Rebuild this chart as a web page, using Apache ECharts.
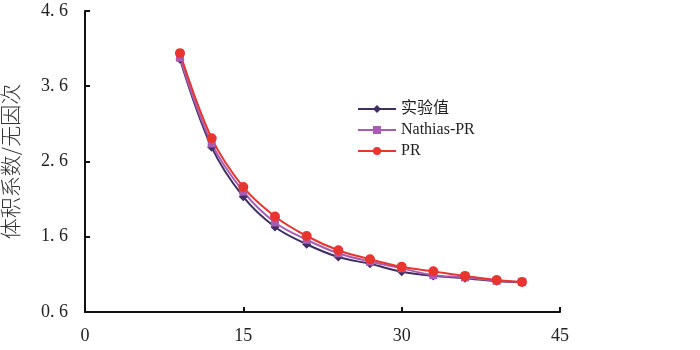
<!DOCTYPE html>
<html>
<head>
<meta charset="utf-8">
<script src="https://cdn.jsdelivr.net/npm/echarts@6/dist/echarts.min.js"></script>
<style>
  html, body { margin: 0; padding: 0; background: #fff; }
  #main { width: 700px; height: 350px; }
</style>
</head>
<body>
<div id="main"></div>
<script>
var chartDom = document.getElementById('main');
var myChart = echarts.init(chartDom);

// temperature points (x) and the three curves
var xVals = [9, 12, 15, 18, 21, 24, 27, 30, 33, 36, 39, 41.4];
var shiyan = [3.96, 2.79, 2.13, 1.73, 1.50, 1.33, 1.24, 1.135, 1.08, 1.05, 1.01, 1.00];
var nathias = [3.98, 2.84, 2.20, 1.79, 1.56, 1.38, 1.27, 1.18, 1.09, 1.06, 1.015, 1.00];
var pr = [4.04, 2.91, 2.26, 1.87, 1.61, 1.42, 1.30, 1.20, 1.14, 1.08, 1.025, 1.00];
var yTicks = [0.6, 1.6, 2.6, 3.6, 4.6];

function pairs(ys) {
  return xVals.map((x, i) => [x, ys[i]]);
}

var serif = '"Liberation Serif", "Times New Roman", serif';

var option = {
  animation: false,
  grid: { left: 85, right: 140, top: 11, bottom: 38, outerBoundsMode: 'none', containLabel: false },
  legend: {
    orient: 'vertical',
    left: 352,
    top: 96,
    itemWidth: 38,
    itemHeight: 10,
    itemGap: 5,
    textStyle: { fontFamily: serif + ', "Noto Sans CJK SC"', fontSize: 16, color: '#222' },
    data: ['实验值', 'Nathias-PR', 'PR']
  },
  xAxis: {
    type: 'value',
    min: 0,
    max: 45,
    interval: 15,
    axisLine: { lineStyle: { color: '#111', width: 2 } },
    axisTick: { inside: true, length: 5, lineStyle: { color: '#111', width: 2 } },
    axisLabel: { fontFamily: serif, fontSize: 18, color: '#222', margin: 15 },
    splitLine: { show: false }
  },
  yAxis: {
    type: 'value',
    min: 0.6,
    max: 4.6,
    name: '体积系数/无因次',
    nameLocation: 'middle',
    nameGap: 64,
    nameTextStyle: { fontFamily: '"Noto Sans CJK SC"', fontSize: 21, color: '#333', fontWeight: 300 },
    axisLine: { show: true, lineStyle: { color: '#111', width: 2 } },
    axisTick: { show: true, inside: true, length: 5, customValues: yTicks, lineStyle: { color: '#111', width: 2 } },
    axisLabel: {
      customValues: yTicks,
      fontFamily: serif, fontSize: 18, color: '#222', margin: 17,
      formatter: v => v.toFixed(1).replace('.', '. ')
    },
    splitLine: { show: false }
  },
  series: [
    {
      name: '实验值', type: 'line', smooth: 0.35,
      symbol: 'diamond', symbolSize: 9,
      lineStyle: { color: '#3f2f62', width: 2 },
      itemStyle: { color: '#3f2f62' },
      data: pairs(shiyan)
    },
    {
      name: 'Nathias-PR', type: 'line', smooth: 0.35,
      symbol: 'rect', symbolSize: 8,
      lineStyle: { color: '#a85cb4', width: 2 },
      itemStyle: { color: '#a85cb4' },
      data: pairs(nathias)
    },
    {
      name: 'PR', type: 'line', smooth: 0.35,
      symbol: 'circle', symbolSize: 10,
      lineStyle: { color: '#e8352e', width: 2 },
      itemStyle: { color: '#e8352e' },
      data: pairs(pr)
    }
  ]
};

option && myChart.setOption(option);
</script>
</body>
</html>
